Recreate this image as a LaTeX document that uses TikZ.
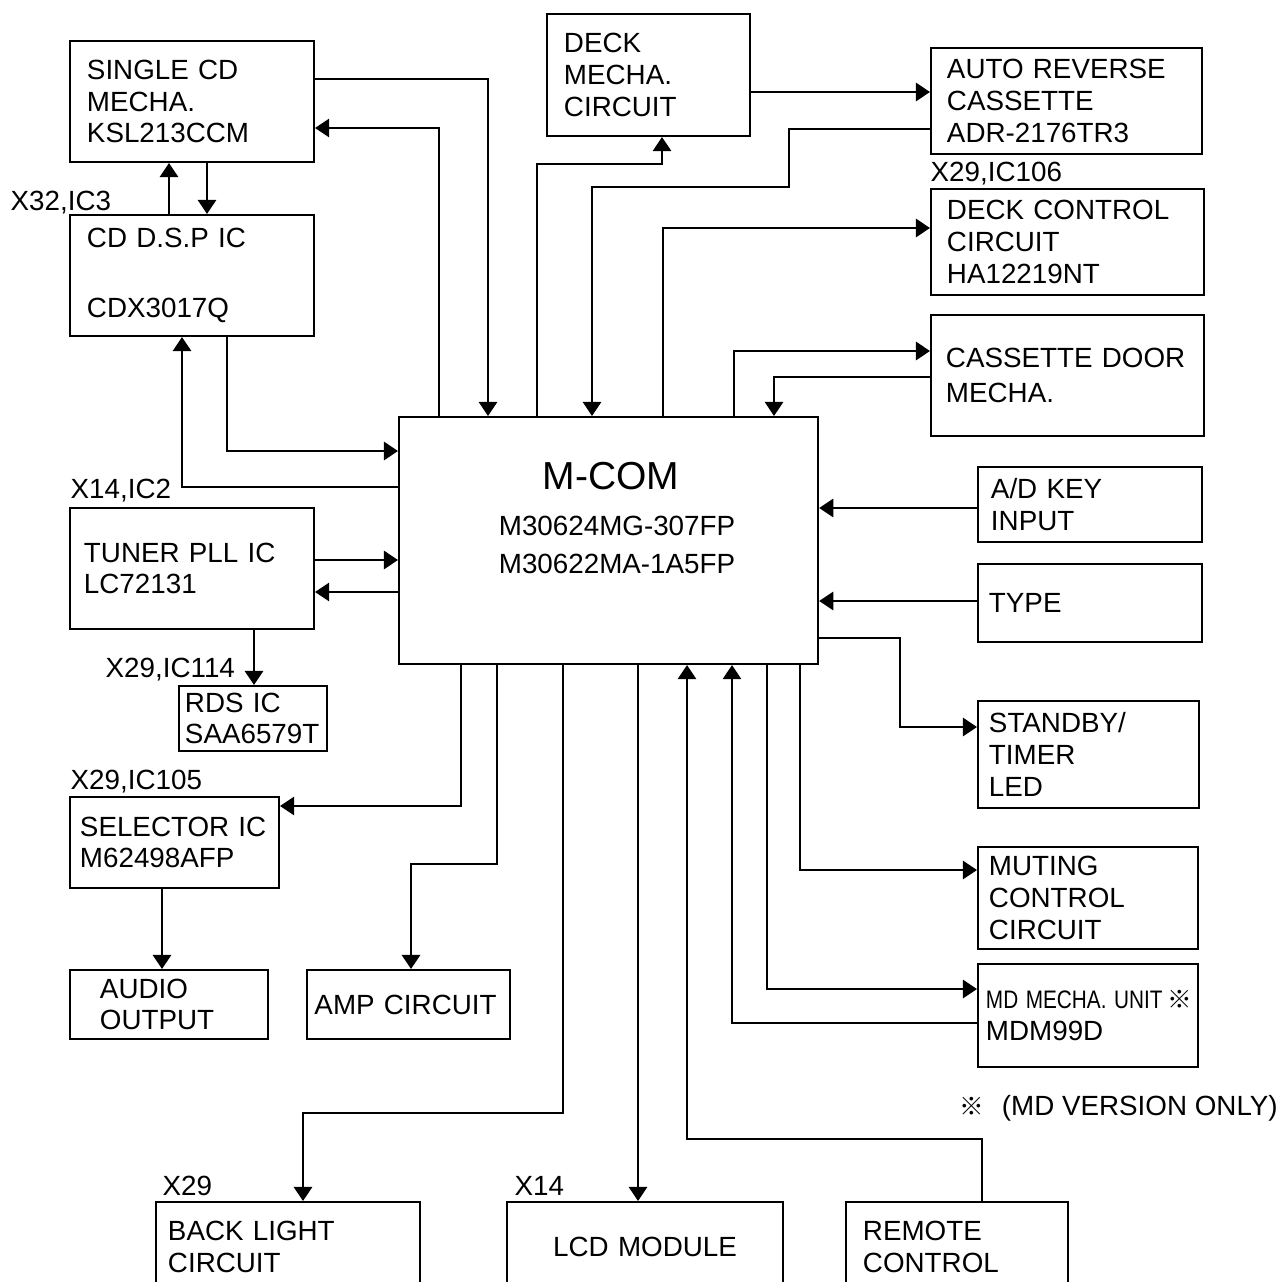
\documentclass[tikz,border=0pt]{standalone}
\usepackage{fontspec}
\setmainfont{Liberation Sans}
\newfontfamily\cjk{Noto Sans CJK JP}
\usetikzlibrary{arrows.meta}

\newcommand{\txtsz}{\fontsize{7.9pt}{9pt}\selectfont}

\tikzset{
  blk/.style={draw, line width=0.55pt, anchor=north west, align=left, inner ysep=0pt, font=\txtsz},
  tag/.style={anchor=base west, inner sep=0pt, font=\txtsz},
  sig/.style={line width=0.55pt, -{Triangle[length=4pt,width=5.2pt]}},
}

\begin{document}
\begin{tikzpicture}[x=0.01cm, y=-0.01cm]
  \clip[use as bounding box] (0,0) rectangle (1278,1282);

  % blocks
  \node[blk, minimum height=1.21cm, text width=2.10cm, inner xsep=0.17cm] (scd) at (69,40) {SINGLE CD\\MECHA.\\KSL213CCM};
  \node[blk, minimum height=1.21cm, text width=2.10cm, inner xsep=0.17cm] (dsp) at (69,214) {CD D.S.P IC\\[10.7pt]CDX3017Q};
  \node[blk, minimum height=1.22cm, text width=1.69cm, inner xsep=0.17cm] (deck) at (546,13) {DECK\\MECHA.\\CIRCUIT};
  \node[blk, minimum height=1.06cm, text width=2.39cm, inner xsep=0.16cm] (arc) at (930,47) {AUTO REVERSE\\CASSETTE\\ADR-2176TR3};
  \node[blk, minimum height=1.06cm, text width=2.41cm, inner xsep=0.16cm] (dcc) at (930,188) {DECK CONTROL\\CIRCUIT\\HA12219NT};
  \node[blk, minimum height=1.21cm, text width=2.43cm, inner xsep=0.15cm] (door) at (930,314) {CASSETTE DOOR\\[1pt]MECHA.};
  \node[blk, minimum height=2.47cm, minimum width=4.19cm, inner sep=0pt] (mcom) at (398,416) {};
  \node[blk, minimum height=1.21cm, text width=2.16cm, inner xsep=0.14cm] (tun) at (69,507) {TUNER PLL IC\\LC72131};
  \node[blk, minimum height=0.65cm, text width=1.36cm, inner xsep=0.06cm] (rds) at (178,685) {RDS IC\\SAA6579T};
  \node[blk, minimum height=0.91cm, text width=1.89cm, inner xsep=0.10cm] (sel) at (69,796) {SELECTOR IC\\M62498AFP};
  \node[blk, minimum height=0.69cm, text width=1.38cm, inner xsep=0.30cm] (aud) at (69,969) {AUDIO\\OUTPUT};
  \node[blk, minimum height=0.69cm, text width=1.88cm, inner xsep=0.075cm] (amp) at (306,969) {AMP CIRCUIT};
  \node[blk, minimum height=0.75cm, text width=1.98cm, inner xsep=0.13cm] (adk) at (977,466) {A/D KEY\\INPUT};
  \node[blk, minimum height=0.78cm, text width=2.02cm, inner xsep=0.11cm] (typ) at (977,563) {TYPE};
  \node[blk, minimum height=1.07cm, text width=1.99cm, inner xsep=0.11cm] (stb) at (977,700) {STANDBY/\\TIMER\\LED};
  \node[blk, minimum height=1.02cm, text width=1.98cm, inner xsep=0.11cm] (mut) at (977,846) {MUTING\\CONTROL\\CIRCUIT};
  \node[blk, minimum height=1.03cm, text width=2.04cm, inner xsep=0.08cm] (md) at (977,963)
    {\scalebox{0.82}[1]{\fontsize{7.2pt}{9pt}\selectfont MD MECHA. UNIT}\,{\cjk\fontsize{7pt}{9pt}\selectfont ※}\\MDM99D};
  \node[blk, minimum height=0.90cm, text width=2.40cm, inner xsep=0.12cm] (bkl) at (155,1201) {BACK LIGHT\\CIRCUIT};
  \node[blk, minimum height=0.90cm, text width=2.56cm, inner xsep=0.10cm, align=center] (lcd) at (506,1201) {LCD MODULE};
  \node[blk, minimum height=0.90cm, text width=1.88cm, inner xsep=0.17cm] (rem) at (845,1201) {REMOTE\\CONTROL};

  % M-COM text
  \node[anchor=base, inner sep=0pt, font=\fontsize{11.1pt}{13pt}\selectfont] (mname) at (611,489) {M-COM};
  \node[anchor=base, inner sep=0pt, font=\txtsz] (mpa) at (617,535) {M30624MG-307FP};
  \node[anchor=base, inner sep=0pt, font=\txtsz] (mpb) at (617,573) {M30622MA-1A5FP};

  % tags
  \node[tag] (t1) at (10,210) {X32,IC3};
  \node[tag] (t2) at (930,182) {X29,IC106};
  \node[tag] (t3) at (70,498) {X14,IC2};
  \node[tag] (t4) at (105,677) {X29,IC114};
  \node[tag] (t5) at (70,789) {X29,IC105};
  \node[tag] (t6) at (162,1195) {X29};
  \node[tag] (t7) at (514,1195) {X14};
  \node[tag] (note) at (959,1115) {{\cjk\fontsize{7pt}{9pt}\selectfont ※}\hspace{5pt}(MD VERSION ONLY)};

  % top side
  \draw[sig] (scd.east |- 0,79) -| (488,0 |- mcom.north);
  \draw[sig] (439,0 |- mcom.north) |- (scd.east |- 0,128);
  \draw[sig] (169,0 |- dsp.north) -- (169,0 |- scd.south);
  \draw[sig] (207,0 |- scd.south) -- (207,0 |- dsp.north);
  \draw[sig] (537,0 |- mcom.north) |- (662,164) -- (662,0 |- deck.south);
  \draw[sig] (deck.east |- 0,92) -- (arc.west |- 0,92);
  \draw[sig] (arc.west |- 0,129) -- (789,129) |- (592,187) -- (592,0 |- mcom.north);
  \draw[sig] (663,0 |- mcom.north) |- (dcc.west |- 0,228);
  \draw[sig] (734,0 |- mcom.north) |- (door.west |- 0,351);
  \draw[sig] (door.west |- 0,377) -| (774,0 |- mcom.north);

  % left side
  \draw[sig] (227,0 |- dsp.south) |- (mcom.west |- 0,451);
  \draw[sig] (mcom.west |- 0,487) -| (182,0 |- dsp.south);
  \draw[sig] (tun.east |- 0,560) -- (mcom.west |- 0,560);
  \draw[sig] (mcom.west |- 0,592) -- (tun.east |- 0,592);
  \draw[sig] (254,0 |- tun.south) -- (254,0 |- rds.north);

  % right side
  \draw[sig] (adk.west |- 0,508) -- (mcom.east |- 0,508);
  \draw[sig] (typ.west |- 0,601) -- (mcom.east |- 0,601);
  \draw[sig] (mcom.east |- 0,638) -- (900,638) |- (stb.west |- 0,727);

  % bottom side
  \draw[sig] (461,0 |- mcom.south) |- (sel.east |- 0,806);
  \draw[sig] (162,0 |- sel.south) -- (162,0 |- aud.north);
  \draw[sig] (497,0 |- mcom.south) -- (497,864) -| (411,0 |- amp.north);
  \draw[sig] (563,0 |- mcom.south) -- (563,1113) -| (303,0 |- bkl.north);
  \draw[sig] (638,0 |- mcom.south) -- (638,0 |- lcd.north);
  \draw[sig] (982,0 |- rem.north) -- (982,1139) -| (687,0 |- mcom.south);
  \draw[sig] (md.west |- 0,1023) -| (732,0 |- mcom.south);
  \draw[sig] (767,0 |- mcom.south) |- (md.west |- 0,989);
  \draw[sig] (800,0 |- mcom.south) |- (mut.west |- 0,870);
\end{tikzpicture}
\end{document}
